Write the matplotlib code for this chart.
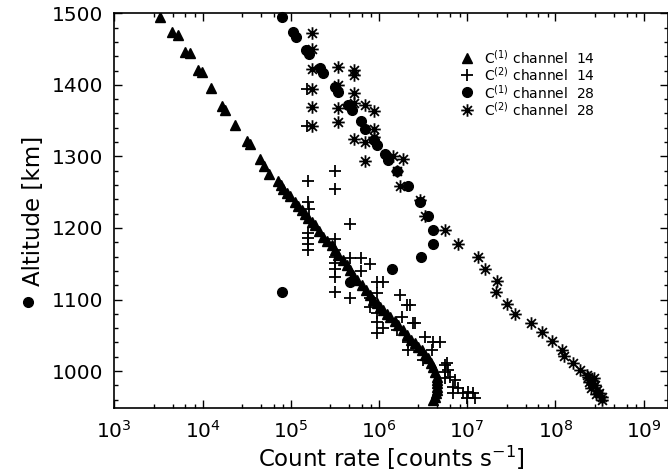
import numpy as np
import matplotlib.pyplot as plt
from matplotlib.path import Path
from matplotlib.ticker import FixedLocator, NullFormatter, MultipleLocator

# C(1) channel 14 (triangles)
tri_alt = [1495, 1474, 1470, 1446, 1444, 1421, 1418, 1395, 1370, 1365, 1344, 1321,
           1317, 1297, 1287, 1276, 1265, 1260, 1255, 1249, 1244, 1237, 1231, 1225,
           1219, 1214, 1209, 1204, 1196, 1188, 1182, 1176, 1169, 1162, 1155, 1148,
           1141, 1134, 1127, 1120, 1113, 1106, 1100, 1095, 1090, 1085, 1080, 1076,
           1070, 1064, 1057, 1050, 1044, 1039, 1034, 1029, 1023, 1018, 1012, 1006,
           999, 992, 988, 983, 978, 974, 969, 964, 960]
tri_val = [3.3e3, 4.5e3, 5.3e3, 6.3e3, 7.3e3, 9.0e3, 9.8e3, 1.24e4, 1.65e4, 1.8e4,
           2.33e4, 3.17e4, 3.45e4, 4.5e4, 5.0e4, 5.6e4, 7.2e4, 7.7e4, 8.2e4, 9.0e4,
           9.8e4, 1.12e5, 1.22e5, 1.33e5, 1.45e5, 1.58e5, 1.72e5, 1.88e5, 2.1e5,
           2.34e5, 2.6e5, 2.91e5, 3.2e5, 3.46e5, 3.9e5, 4.31e5, 4.7e5, 5.12e5, 5.7e5,
           6.37e5, 7.1e5, 7.9e5, 8.6e5, 9.4e5, 1.03e6, 1.12e6, 1.22e6, 1.33e6, 1.5e6,
           1.66e6, 1.85e6, 2.06e6, 2.3e6, 2.56e6, 2.8e6, 3.05e6, 3.35e6, 3.62e6,
           3.9e6, 4.13e6, 4.35e6, 4.5e6, 4.56e6, 4.58e6, 4.56e6, 4.5e6, 4.42e6,
           4.32e6, 4.13e6]

# C(2) channel 14 (plus)
plus_alt = [1394, 1342, 1265, 1279, 1255, 1237, 1226, 1206, 1193, 1186, 1178, 1169,
            1184, 1169, 1160, 1151, 1142, 1132, 1110, 1158, 1158, 1150, 1140, 1102,
            1102, 1090, 1125, 1125, 1109, 1106, 1092, 1081, 1069, 1060, 1053, 1057,
            1076, 1067, 1048, 1041, 1029, 1041, 1041, 1029, 1015, 1008, 999, 990,
            1067, 1092, 1011, 1002, 992, 988, 978, 976, 969, 969, 971, 969, 962, 962]
plus_val = [1.52e5, 1.52e5, 1.58e5, 3.17e5, 3.17e5, 1.58e5, 1.62e5, 4.69e5, 1.58e5,
            1.58e5, 1.58e5, 1.58e5, 3.17e5, 3.17e5, 3.17e5, 3.17e5, 3.17e5, 3.17e5,
            3.17e5, 4.69e5, 6.21e5, 7.91e5, 6.21e5, 4.69e5, 7.91e5, 7.91e5, 9.42e5,
            1.12e6, 9.42e5, 1.73e6, 2.06e6, 9.42e5, 9.42e5, 1.12e6, 9.42e5, 1.59e6,
            1.81e6, 2.56e6, 3.33e6, 2.15e6, 2.15e6, 4.13e6, 4.92e6, 3.95e6, 3.18e6,
            5.6e6, 5.6e6, 5.6e6, 2.45e6, 2.24e6, 5.85e6, 6.11e6, 6.38e6, 7.28e6,
            6.95e6, 7.93e6, 6.95e6, 9.04e6, 1.03e7, 1.17e7, 9.86e6, 1.22e7]

# C(1) channel 28 (circles); the last one lies left of the frame
circ_alt = [1495, 1474, 1467, 1449, 1443, 1423, 1416, 1397, 1390, 1372, 1365, 1349,
            1339, 1323, 1316, 1304, 1295, 1280, 1258, 1237, 1217, 1197, 1178, 1160,
            1143, 1125, 1110, 1096]
circ_val = [7.9e4, 1.07e5, 1.15e5, 1.49e5, 1.62e5, 2.14e5, 2.34e5, 3.17e5, 3.46e5,
            4.49e5, 4.91e5, 6.21e5, 6.93e5, 8.77e5, 9.42e5, 1.17e6, 1.28e6, 1.59e6,
            2.15e6, 2.92e6, 3.62e6, 4.13e6, 4.13e6, 2.97e6, 1.39e6, 4.69e5, 7.9e4,
            1.05e2]

# C(2) channel 28 (asterisks)
ast_alt = [1472, 1450, 1422, 1394, 1369, 1342, 1425, 1421, 1414, 1400, 1389, 1367,
           1348, 1374, 1372, 1364, 1339, 1324, 1320, 1327, 1294, 1300, 1297, 1280,
           1259, 1239, 1217, 1197, 1178, 1160, 1143, 1126, 1110, 1094, 1080, 1067,
           1054, 1042, 1030, 1021, 1011, 1002, 992, 983, 974, 964,
           995, 990, 988, 985, 980, 977, 970, 968, 960]
ast_val = [1.75e5, 1.75e5, 1.75e5, 1.75e5, 1.75e5, 1.75e5, 3.46e5, 5.21e5, 5.21e5,
           3.46e5, 5.21e5, 3.46e5, 3.46e5, 5.21e5, 6.93e5, 8.77e5, 8.77e5, 5.21e5,
           6.93e5, 8.77e5, 6.93e5, 1.45e6, 1.89e6, 1.59e6, 1.73e6, 2.92e6, 3.33e6,
           5.6e6, 7.93e6, 1.34e7, 1.59e7, 2.16e7, 2.1e7, 2.84e7, 3.48e7, 5.28e7,
           6.98e7, 9.08e7, 1.2e8, 1.26e8, 1.59e8, 1.9e8, 2.36e8, 2.58e8, 2.94e8,
           3.34e8, 2.25e8, 2.75e8, 2.6e8, 2.4e8, 2.8e8, 2.55e8, 3.1e8, 2.85e8, 3.4e8]

labels = [r'C$^{(1)}$ channel  14', r'C$^{(2)}$ channel  14',
          r'C$^{(1)}$ channel  28', r'C$^{(2)}$ channel  28']

# asterisk marker like IDL psym=2
d = 0.707
ast_path = Path([(-1, 0), (1, 0), (0, -1), (0, 1), (-d, -d), (d, d), (-d, d), (d, -d)],
                [Path.MOVETO, Path.LINETO] * 4)

plt.rcParams['font.family'] = 'DejaVu Sans'
fig = plt.figure(figsize=(6.68, 4.75), dpi=100)
ax = fig.add_axes([0.1711, 0.1404, 0.8296, 0.8316])

styles = [dict(marker='^', ms=7.5),
          dict(marker='+', ms=8, mew=1.3),
          dict(marker='o', ms=7),
          dict(marker=ast_path, ms=9, mew=1.3, mfc='none')]

ax.plot(tri_val, tri_alt, ls='none', color='k', **styles[0])
ax.plot(plus_val, plus_alt, ls='none', color='k', **styles[1])
ax.plot(circ_val, circ_alt, ls='none', color='k', clip_on=False, **styles[2])
ax.plot(ast_val, ast_alt, ls='none', color='k', **styles[3])

ax.set_xscale('log')
ax.set_xlim(1e3, 10 ** 9.281)
ax.set_ylim(948, 1500)

ax.set_xticks([10.0 ** k for k in range(3, 10)])
minors = [m * 10.0 ** k for k in range(3, 10) for m in (2.8, 4.6, 6.4, 8.2)]
ax.xaxis.set_minor_locator(FixedLocator(minors))
ax.xaxis.set_minor_formatter(NullFormatter())
ax.set_yticks([1000, 1100, 1200, 1300, 1400, 1500])
ax.yaxis.set_minor_locator(MultipleLocator(20))

ax.tick_params(which='both', direction='in', top=True, right=True, width=1)
ax.tick_params(which='major', length=6, labelsize=14.5, pad=8)
ax.tick_params(which='minor', length=3)
for s in ax.spines.values():
    s.set_linewidth(1.2)

ax.set_xlabel(r'Count rate [counts s$^{-1}$]', fontsize=16.5, labelpad=2)
ax.set_ylabel('Altitude [km]', fontsize=16.5, labelpad=5)

# legend drawn by hand, rows in axes fraction
for i, (lab, st) in enumerate(zip(labels, styles)):
    yy = 0.888 - i * 0.044
    ax.plot([0.636], [yy], ls='none', color='k', transform=ax.transAxes,
            clip_on=False, **st)
    ax.text(0.667, yy, lab, transform=ax.transAxes, fontsize=10, va='center',
            ha='left')

fig.savefig('out.png', dpi=100)
